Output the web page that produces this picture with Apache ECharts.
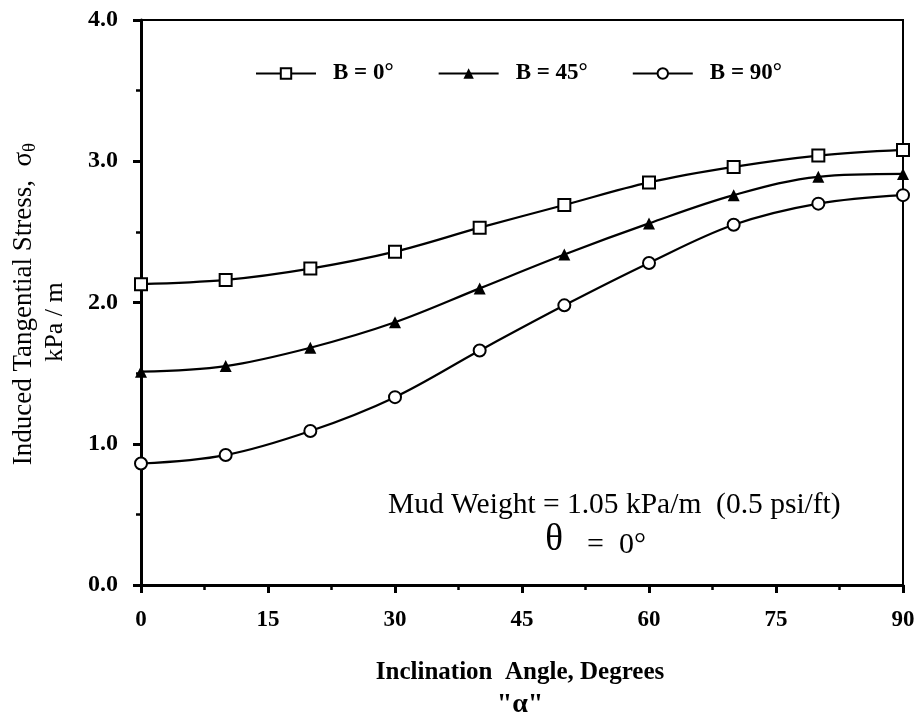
<!DOCTYPE html>
<html>
<head>
<meta charset="utf-8">
<script src="https://cdn.jsdelivr.net/npm/echarts@6/dist/echarts.min.js"></script>
<style>
  html, body { margin: 0; padding: 0; background: #fff; }
  #chart { width: 921px; height: 726px; }
</style>
</head>
<body>
<div id="chart"></div>
<script>
// inclination angle, degrees
const angles = [0, 10, 20, 30, 40, 50, 60, 70, 80, 90]
// induced tangential stress, kPa/m
const b0 = [2.13, 2.16, 2.24, 2.36, 2.53, 2.69, 2.85, 2.96, 3.04, 3.08]
const b45 = [1.51, 1.55, 1.68, 1.86, 2.10, 2.34, 2.56, 2.76, 2.89, 2.91]
const b90 = [0.86, 0.92, 1.09, 1.33, 1.66, 1.98, 2.28, 2.55, 2.70, 2.76]
const seriesNames = ['B = 0°', 'B = 45°', 'B = 90°']

const serif = 'Liberation Serif, DejaVu Serif, serif'

const chart = echarts.init(document.getElementById('chart'))

const makeSeries = (name, values, symbol) => ({
  name,
  type: 'line',
  smooth: 0.35,
  symbol,
  symbolSize: 12,
  data: angles.map((a, i) => [a, values[i]]),
  itemStyle: { color: '#000', borderWidth: 2 },
  lineStyle: { color: '#000', width: 2.2 }
})

chart.setOption({
  animation: false,
  backgroundColor: '#fff',
  grid: {
    left: 141, right: 18, top: 20, bottom: 141,
    show: true, borderColor: '#000', borderWidth: 2
  },
  legend: {
    top: 57,
    left: 250,
    itemWidth: 60,
    itemHeight: 13,
    itemGap: 44,
    textStyle: { fontFamily: serif, fontWeight: 'bold', fontSize: 23, color: '#000', padding: [0, 0, 0, 12] },
    data: seriesNames
  },
  xAxis: {
    type: 'value',
    min: 0, max: 90, interval: 15,
    axisLine: { lineStyle: { color: '#000', width: 3 } },
    axisTick: { length: 8, lineStyle: { color: '#000', width: 3 } },
    minorTick: { show: true, splitNumber: 2, length: 5, lineStyle: { color: '#000', width: 2.5 } },
    splitLine: { show: false },
    axisLabel: { margin: 24, fontFamily: serif, fontWeight: 'bold', fontSize: 23, color: '#000' }
  },
  yAxis: {
    type: 'value',
    min: 0, max: 4, interval: 1,
    axisLine: { lineStyle: { color: '#000', width: 3 } },
    axisTick: { length: 8, lineStyle: { color: '#000', width: 3 } },
    minorTick: { show: true, splitNumber: 2, length: 5, lineStyle: { color: '#000', width: 2.5 } },
    splitLine: { show: false },
    axisLabel: {
      margin: 23, fontFamily: serif, fontWeight: 'bold', fontSize: 24, color: '#000',
      formatter: v => v.toFixed(1)
    }
  },
  series: [
    makeSeries(seriesNames[0], b0, 'emptyRect'),
    makeSeries(seriesNames[1], b45, 'triangle'),
    makeSeries(seriesNames[2], b90, 'emptyCircle')
  ],
  graphic: [
    {
      type: 'text', x: 24, y: 304, rotation: Math.PI / 2,
      style: {
        text: 'Induced Tangential Stress,  σ{s|θ}',
        rich: { s: { fontFamily: serif, fontSize: 19, padding: [12, 0, 0, 0], fill: '#000' } },
        font: '27px ' + serif, fill: '#000', align: 'center', verticalAlign: 'middle'
      }
    },
    {
      type: 'text', x: 55, y: 322, rotation: Math.PI / 2,
      style: { text: 'kPa / m', font: '26px ' + serif, fill: '#000', align: 'center', verticalAlign: 'middle' }
    },
    {
      type: 'text', x: 520, y: 673,
      style: { text: 'Inclination  Angle, Degrees', font: 'bold 25px ' + serif, fill: '#000', align: 'center', verticalAlign: 'middle' }
    },
    {
      type: 'text', x: 520, y: 705,
      style: { text: '"α"', font: 'bold 28px ' + serif, fill: '#000', align: 'center', verticalAlign: 'middle' }
    },
    {
      type: 'text', x: 388, y: 505,
      style: { text: 'Mud Weight = 1.05 kPa/m  (0.5 psi/ft)', font: '29.5px ' + serif, fill: '#000', align: 'left', verticalAlign: 'middle' }
    },
    {
      type: 'text', x: 554, y: 540,
      style: { text: 'θ', font: '37px ' + serif, fill: '#000', align: 'center', verticalAlign: 'middle' }
    },
    {
      type: 'text', x: 587, y: 545,
      style: { text: '=  0°', font: '30px ' + serif, fill: '#000', align: 'left', verticalAlign: 'middle' }
    }
  ]
})
</script>
</body>
</html>
